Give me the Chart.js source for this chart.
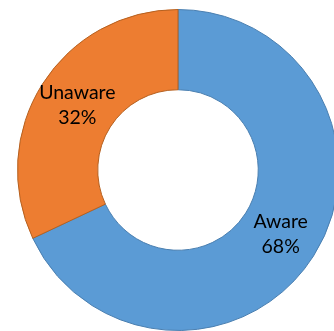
<!DOCTYPE html>
<html>
<head>
<meta charset="utf-8">
<script src="https://cdn.jsdelivr.net/npm/chart.js@4"></script>
<style>
    html, body { margin: 0; padding: 0; background: #fff; overflow: hidden; }
    #wrap { position: absolute; left: 0; top: 0; width: 356px; height: 340px; }
</style>
</head>
<body>
<div id="wrap"><canvas id="awarenessChart" width="356" height="340"></canvas></div>
<script>
const categories = ['Aware', 'Unaware'];
const shares = [68, 32];
const fillColors = ['#5B9BD5', '#ED7D31'];
const edgeColors = ['#4A7FB0', '#B5601F'];

// Two-line label (name + percent) at the middle of each ring segment
const segmentLabels = {
    id: 'segmentLabels',
    afterDatasetsDraw(chart) {
        const ctx = chart.ctx;
        const meta = chart.getDatasetMeta(0);
        const total = shares.reduce((a, b) => a + b, 0);
        ctx.save();
        ctx.fillStyle = '#000';
        ctx.font = '19.5px Lato, "Open Sans", sans-serif';
        ctx.textAlign = 'center';
        ctx.textBaseline = 'middle';
        meta.data.forEach((arc, i) => {
            const p = arc.tooltipPosition();
            const pct = Math.round(shares[i] / total * 100) + '%';
            ctx.fillText(categories[i], p.x + 1, p.y - 12.5);
            ctx.fillText(pct, p.x + 1, p.y + 12.5);
        });
        ctx.restore();
    }
};

const ctx = document.getElementById('awarenessChart').getContext('2d');
const awarenessChart = new Chart(ctx, {
    type: 'doughnut',
    data: {
        labels: categories,
        datasets: [{
            data: shares,
            backgroundColor: fillColors,
            borderColor: edgeColors,
            borderWidth: 1
        }]
    },
    options: {
        responsive: false,
        animation: false,
        cutout: '50%',
        layout: {
            padding: { left: 17, top: 9, right: 17, bottom: 9 }
        },
        plugins: {
            legend: { display: false },
            tooltip: { enabled: false }
        }
    },
    plugins: [segmentLabels]
});
</script>
</body>
</html>
